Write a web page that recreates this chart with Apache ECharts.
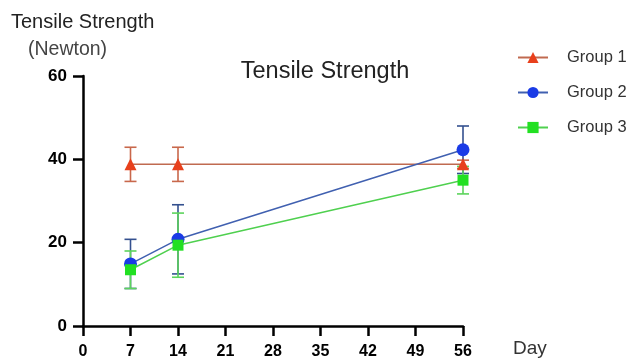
<!DOCTYPE html>
<html><head><meta charset="utf-8">
<script src="https://cdn.jsdelivr.net/npm/echarts@6/dist/echarts.min.js"></script>
<style>html,body{margin:0;padding:0;background:#fff}#c{width:631px;height:360px}</style>
</head><body><div id="c"></div>
<script>
var days = [7, 14, 56];
var groupNames = ['Group 1', 'Group 2', 'Group 3'];
var g1Mean = [38.8, 38.8, 38.8];
var g1Err = [4.1, 4.1, 1.0];
var g2Mean = [14.9, 20.8, 42.3];
var g2Err = [5.9, 8.3, 5.7];
var g3Mean = [13.5, 19.4, 35.0];
var g3Err = [4.5, 7.7, 3.3];
var xTicks = [0, 7, 14, 21, 28, 35, 42, 49, 56];
var yTicks = [0, 20, 40, 60];

var markerColors = ['#e8401c', '#1a3be6', '#22e022'];
var lineColors = ['#c06a50', '#4060b0', '#4fd04f'];
var errColors = ['#c8684c', '#34508f', '#5cd45c'];
var symbols = ['triangle', 'circle', 'rect'];
var symbolSizes = [12, 13, 11];
var means = [g1Mean, g2Mean, g3Mean];
var errs = [g1Err, g2Err, g3Err];
var FONT = 'Liberation Sans, Arial, sans-serif';

var series = [];
for (var g = 0; g < 3; g++) {
  (function (g) {
    var errData = days.map(function (d, i) { return [d, means[g][i] - errs[g][i], means[g][i] + errs[g][i]]; });
    series.push({
      type: 'custom', name: groupNames[g] + ' err', z: 2 + g,
      data: errData,
      encode: { x: 0, y: [1, 2] },
      renderItem: function (params, api) {
        var x = api.value(0);
        var lo = api.coord([x, api.value(1)]);
        var hi = api.coord([x, api.value(2)]);
        var cw = 6;
        var st = { stroke: errColors[g], lineWidth: 1.6, fill: null };
        return { type: 'group', children: [
          { type: 'line', shape: { x1: lo[0], y1: lo[1], x2: hi[0], y2: hi[1] }, style: st },
          { type: 'line', shape: { x1: lo[0] - cw, y1: lo[1], x2: lo[0] + cw, y2: lo[1] }, style: st },
          { type: 'line', shape: { x1: hi[0] - cw, y1: hi[1], x2: hi[0] + cw, y2: hi[1] }, style: st }
        ]};
      },
      silent: true
    });
    series.push({
      type: 'line', name: groupNames[g], z: 5 + g,
      data: days.map(function (d, i) { return [d, means[g][i]]; }),
      symbol: symbols[g], symbolSize: symbolSizes[g],
      lineStyle: { color: lineColors[g], width: 1.5 },
      itemStyle: { color: markerColors[g] },
      animation: false
    });
  })(g);
}

var chart = echarts.init(document.getElementById('c'));
chart.setOption({
  animation: false,
  backgroundColor: '#fff',
  title: { text: 'Tensile Strength', left: 320, top: 55, textAlign: 'center',
    textStyle: { fontFamily: FONT, fontWeight: 'normal', fontSize: 23.5, color: '#222' } },
  legend: {
    data: groupNames, orient: 'vertical', left: 512, top: 44, itemGap: 18,
    itemWidth: 30, itemHeight: 14,
    textStyle: { fontFamily: FONT, fontSize: 16.5, color: '#333', padding: [0, 0, 0, 14] }
  },
  grid: { left: 83, right: 168, top: 76, bottom: 32.5, containLabel: false },
  xAxis: {
    type: 'value', min: 0, max: 56, interval: 7,
    axisLine: { lineStyle: { color: '#000', width: 2.5 } },
    axisTick: { show: true, length: 10, lineStyle: { color: '#000', width: 2.5 } },
    axisLabel: { color: '#000', fontWeight: 'bold', fontSize: 16, fontFamily: FONT, margin: 18,
      formatter: function (v) { return xTicks.indexOf(v) >= 0 ? String(v) : ''; } },
    splitLine: { show: false }
  },
  yAxis: {
    type: 'value', min: 0, max: 60, interval: 20,
    axisLine: { show: true, lineStyle: { color: '#000', width: 2.5 } },
    axisTick: { show: true, length: 10, lineStyle: { color: '#000', width: 2.5 } },
    axisLabel: { color: '#000', fontWeight: 'bold', fontSize: 17, fontFamily: FONT, margin: 16,
      formatter: function (v) { return yTicks.indexOf(v) >= 0 ? String(v) : ''; } },
    splitLine: { show: false }
  },
  graphic: [
    { type: 'text', left: 11, top: 12, style: { text: 'Tensile Strength', fontFamily: FONT, fontSize: 20, fill: '#222' } },
    { type: 'text', left: 28, top: 40, style: { text: '(Newton)', fontFamily: FONT, fontSize: 19.5, fill: '#444' } },
    { type: 'text', left: 513, top: 339, style: { text: 'Day', fontFamily: FONT, fontSize: 19, fill: '#333' } }
  ],
  series: series
});
</script></body></html>
